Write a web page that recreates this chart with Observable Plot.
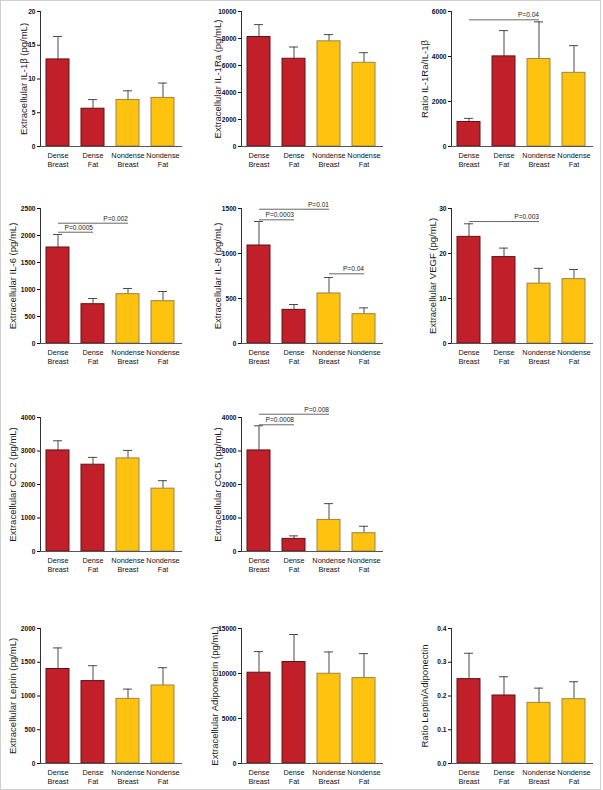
<!DOCTYPE html>
<html>
<head>
<meta charset="utf-8">
<script src="https://cdn.jsdelivr.net/npm/d3@7"></script>
<script src="https://cdn.jsdelivr.net/npm/@observablehq/plot@0.6"></script>
<style>
  html, body { margin: 0; padding: 0; background: #fff; }
  #page { position: relative; width: 603px; height: 790px; overflow: hidden; }
  #border { position: absolute; left: 0; top: 0; width: 601px; height: 790px; box-sizing: border-box; border: 1px solid #cfcfcf; }
  .panel { position: absolute; }
</style>
</head>
<body>
<div id="page"><div id="border"></div></div>
<script>
// ---------- data ----------
const categories = ["Dense Breast", "Dense Fat", "Nondense Breast", "Nondense Fat"];

const il1bMean = [12.9, 5.6, 6.9, 7.2];
const il1bUpper = [16.3, 6.95, 8.25, 9.4];
const il1bTicks = [0, 5, 10, 15, 20];

const il1raMean = [8110, 6500, 7790, 6200];
const il1raUpper = [9030, 7370, 8290, 6950];
const il1raTicks = [0, 2000, 4000, 6000, 8000, 10000];

const ratioIl1Mean = [1090, 4005, 3890, 3275];
const ratioIl1Upper = [1250, 5150, 5540, 4480];
const ratioIl1Ticks = [0, 2000, 4000, 6000];
const ratioIl1Brackets = [{from: "Dense Breast", to: "Nondense Breast", y: 5630, label: "P=0.04"}];

const il6Mean = [1778, 728, 914, 784];
const il6Upper = [2019, 833, 1019, 963];
const il6Ticks = [0, 500, 1000, 1500, 2000, 2500];
const il6Brackets = [
  {from: "Dense Breast", to: "Dense Fat", y: 2061, label: "P=0.0005"},
  {from: "Dense Breast", to: "Nondense Breast", y: 2228, label: "P=0.002"}
];

const il8Mean = [1089, 374, 556, 326];
const il8Upper = [1356, 433, 733, 396];
const il8Ticks = [0, 500, 1000, 1500];
const il8Brackets = [
  {from: "Dense Breast", to: "Dense Fat", y: 1374, label: "P=0.0003"},
  {from: "Dense Breast", to: "Nondense Breast", y: 1492, label: "P=0.01"},
  {from: "Nondense Breast", to: "Nondense Fat", y: 774, label: "P=0.04"}
];

const vegfMean = [23.7, 19.2, 13.3, 14.3];
const vegfUpper = [26.6, 21.2, 16.7, 16.45];
const vegfTicks = [0, 10, 20, 30];
const vegfBrackets = [{from: "Dense Breast", to: "Nondense Breast", y: 27.1, label: "P=0.003"}];

const ccl2Mean = [3017, 2591, 2779, 1876];
const ccl2Upper = [3305, 2809, 3017, 2114];
const ccl2Ticks = [0, 1000, 2000, 3000, 4000];

const ccl5Mean = [3017, 377, 943, 546];
const ccl5Upper = [3752, 466, 1429, 754];
const ccl5Ticks = [0, 1000, 2000, 3000, 4000];
const ccl5Brackets = [
  {from: "Dense Breast", to: "Dense Fat", y: 3782, label: "P=0.0008"},
  {from: "Dense Breast", to: "Nondense Breast", y: 4098, label: "P=0.008"}
];

const leptinMean = [1400, 1221, 958, 1156];
const leptinUpper = [1712, 1449, 1102, 1419];
const leptinTicks = [0, 500, 1000, 1500, 2000];

const adipoMean = [10087, 11278, 9975, 9491];
const adipoUpper = [12432, 14330, 12395, 12208];
const adipoTicks = [0, 5000, 10000, 15000];

const ratioLepMean = [0.250, 0.2015, 0.1797, 0.1906];
const ratioLepUpper = [0.3266, 0.257, 0.2233, 0.2422];
const ratioLepTicks = [0.0, 0.1, 0.2, 0.3, 0.4];

// ---------- styles ----------
const RED = "#c1202a", RED_STROKE = "#5e1414";
const YEL = "#ffc20e", YEL_STROKE = "#9a8545";
const FONT = "'Liberation Sans', Arial, Helvetica, sans-serif";
const ML = 45, MR = 10, MT = 25, MB = 30, IW = 141;

function panel({mean, upper, ticks, title, titleOffset, brackets = [], axisX, topY, innerH = 135, fmt = d3.format("d")}) {
  const rows = categories.map((c, i) => ({cat: c, mean: mean[i], upper: upper[i]}));
  const isDense = d => d.cat.startsWith("Dense");
  const svg = Plot.plot({
    width: ML + IW + MR,
    height: MT + innerH + MB,
    marginLeft: ML, marginRight: MR, marginTop: MT, marginBottom: MB,
    style: {background: "transparent", fontFamily: FONT, color: "#111", overflow: "visible"},
    x: {domain: categories, paddingInner: 0.33, paddingOuter: 0.17, label: null},
    y: {domain: [0, ticks[ticks.length - 1]], label: null},
    color: {type: "identity"},
    marks: [
      Plot.ruleX(rows, {x: "cat", y1: "mean", y2: "upper", stroke: "#4a4a4a", strokeWidth: 1}),
      Plot.tickY(rows, {x: "cat", y: "upper", stroke: "#4a4a4a", strokeWidth: 1, insetLeft: 7, insetRight: 7}),
      Plot.barY(rows, {x: "cat", y: "mean", fill: d => isDense(d) ? RED : YEL, stroke: d => isDense(d) ? RED_STROKE : YEL_STROKE, strokeWidth: 1}),
      Plot.link(brackets, {x1: "from", x2: "to", y1: "y", y2: "y", stroke: "#666", strokeWidth: 1}),
      Plot.text(brackets, {x: "to", y: "y", text: "label", textAnchor: "end", dy: -4.5, fontSize: 6.6, fill: "#222"}),
      Plot.axisY({ticks, tickSize: 3, tickPadding: 2, fontSize: 6.6, fontWeight: "bold", label: null, tickFormat: fmt}),
      Plot.axisX({tickSize: 0, tickPadding: 5, fontSize: 7.3, lineHeight: 1.25, label: null, tickFormat: d => d.replace(" ", "\n")}),
      Plot.frame({anchor: "left", stroke: "#333"}),
      Plot.frame({anchor: "bottom", stroke: "#555"}),
      Plot.text([title], {frameAnchor: "left", textAnchor: "middle", lineAnchor: "middle", rotate: -90, dx: -titleOffset, fontSize: 9.5, fill: "#1a1a1a"})
    ]
  });
  svg.classList.add("panel");
  svg.style.left = (axisX - ML) + "px";
  svg.style.top = (topY - MT) + "px";
  document.getElementById("page").appendChild(svg);
}

const C1 = 40, C2 = 241, C3 = 451;
const R1 = 11, R2 = 208, R3 = 417, R4 = 628;

panel({mean: il1bMean, upper: il1bUpper, ticks: il1bTicks, title: "Extracellular IL-1β (pg/mL)", titleOffset: 17, axisX: C1, topY: R1});
panel({mean: il1raMean, upper: il1raUpper, ticks: il1raTicks, title: "Extracellular IL-1Ra (pg/mL)", titleOffset: 24, axisX: C2, topY: R1});
panel({mean: ratioIl1Mean, upper: ratioIl1Upper, ticks: ratioIl1Ticks, title: "Ratio IL-1Ra/IL-1β", titleOffset: 27, brackets: ratioIl1Brackets, axisX: C3, topY: R1});

panel({mean: il6Mean, upper: il6Upper, ticks: il6Ticks, title: "Extracellular IL-6 (pg/mL)", titleOffset: 28, brackets: il6Brackets, axisX: C1, topY: R2});
panel({mean: il8Mean, upper: il8Upper, ticks: il8Ticks, title: "Extracellular IL-8 (pg/mL)", titleOffset: 24, brackets: il8Brackets, axisX: C2, topY: R2});
panel({mean: vegfMean, upper: vegfUpper, ticks: vegfTicks, title: "Extracellular VEGF (pg/mL)", titleOffset: 19, brackets: vegfBrackets, axisX: C3, topY: R2});

panel({mean: ccl2Mean, upper: ccl2Upper, ticks: ccl2Ticks, title: "Extracellular CCL2 (pg/mL)", titleOffset: 28, axisX: C1, topY: R3, innerH: 134});
panel({mean: ccl5Mean, upper: ccl5Upper, ticks: ccl5Ticks, title: "Extracellular CCL5 (pg/mL)", titleOffset: 24, brackets: ccl5Brackets, axisX: C2, topY: R3, innerH: 134});

panel({mean: leptinMean, upper: leptinUpper, ticks: leptinTicks, title: "Extracellular Leptin (pg/mL)", titleOffset: 28, axisX: C1, topY: R4});
panel({mean: adipoMean, upper: adipoUpper, ticks: adipoTicks, title: "Extracellular Adiponectin (pg/mL)", titleOffset: 27, axisX: C2, topY: R4});
panel({mean: ratioLepMean, upper: ratioLepUpper, ticks: ratioLepTicks, title: "Ratio Leptin/Adiponectin", titleOffset: 27, axisX: C3, topY: R4, fmt: d3.format(".1f")});
</script>
</body>
</html>
